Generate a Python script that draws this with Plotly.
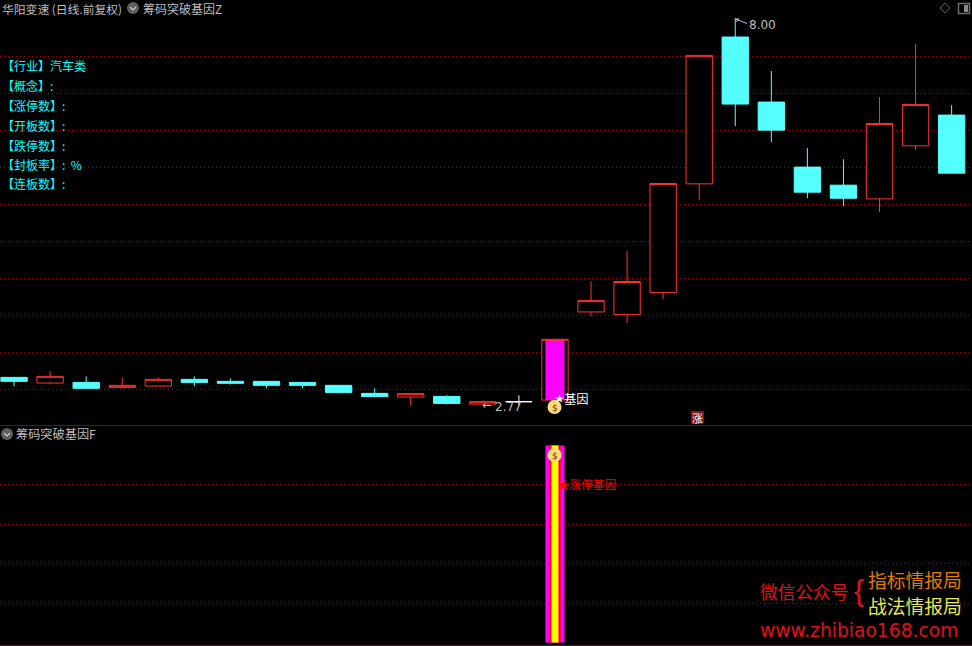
import math
import plotly.graph_objects as go

# ---------- data ----------
idx = list(range(27))
opens = [3.122,3.045,3.054,2.986,3.004,3.095,3.068,3.068,3.054,3.014,2.905,2.855,2.864,2.760,2.792,2.814,
         4.010,3.974,4.273,5.749,7.742,6.859,5.976,5.731,5.545,6.265,6.682]
closes = [3.068,3.136,2.973,3.014,3.095,3.054,3.041,3.014,3.014,2.918,2.864,2.901,2.769,2.792,2.792,3.639,
          4.164,4.423,5.754,7.493,6.832,6.478,5.636,5.554,6.569,6.827,5.894]
highs = [3.122,3.204,3.136,3.122,3.122,3.136,3.109,3.068,3.054,3.014,2.973,2.901,2.878,2.810,2.878,3.639,
         4.427,4.834,5.754,7.493,8.000,7.280,6.234,6.084,6.927,7.647,6.818]
lows = [3.000,3.027,2.973,2.973,3.004,3.000,3.027,2.973,2.973,2.905,2.851,2.742,2.755,2.755,2.742,2.814,
        3.951,3.856,4.182,5.527,6.533,6.315,5.554,5.446,5.364,6.207,5.894]
cross_i = 14
gene_i = 15
price_grid = [7.477,6.974,6.471,5.969,5.466,4.963,4.461,3.965,3.462,2.959]
gene_value = 100
lower_grid = [20,40,60,80]
info_lines = ["【行业】汽车类","【概念】:","【涨停数】:","【开板数】:","【跌停数】:","【封板率】:  %","【连板数】:"]

W, H = 972, 646
RED, CYAN = "#FF3232", "#54FFFF"
GRID = "#A00000"
GREY = "#BEBEBE"
CJK = "Noto Sans CJK SC"

def px(x): return x / W
def py(y): return 1 - y / H

normal = [i for i in idx if i not in (cross_i, gene_i)]
fig = go.Figure()

# spacer + magenta column of the limit-up candle (bars draw below candlesticks)
fig.add_bar(x=[gene_i], y=[closes[gene_i]-opens[gene_i]], base=[opens[gene_i]], width=26/36,
            marker=dict(color="#000000", line_width=0), xaxis="x", yaxis="y")
fig.add_bar(x=[gene_i], y=[closes[gene_i]-opens[gene_i]], base=[opens[gene_i]], width=19/36,
            marker=dict(color="#FF00FF", line_width=0), xaxis="x", yaxis="y")

fig.add_candlestick(x=normal, open=[opens[i] for i in normal], high=[highs[i] for i in normal],
                    low=[lows[i] for i in normal], close=[closes[i] for i in normal],
                    increasing=dict(line=dict(color=RED, width=1), fillcolor="#000000"),
                    decreasing=dict(line=dict(color=CYAN, width=1), fillcolor=CYAN),
                    whiskerwidth=0, xaxis="x", yaxis="y")
fig.add_candlestick(x=[gene_i], open=[opens[gene_i]], high=[highs[gene_i]], low=[lows[gene_i]], close=[closes[gene_i]],
                    increasing=dict(line=dict(color=RED, width=1), fillcolor="rgba(0,0,0,0)"),
                    decreasing=dict(line=dict(color=RED, width=1), fillcolor="rgba(0,0,0,0)"),
                    whiskerwidth=0, xaxis="x", yaxis="y")
fig.add_candlestick(x=[cross_i], open=[opens[cross_i]], high=[highs[cross_i]], low=[lows[cross_i]], close=[closes[cross_i]],
                    increasing=dict(line=dict(color="#FFFFFF", width=1), fillcolor="#FFFFFF"),
                    decreasing=dict(line=dict(color="#FFFFFF", width=1), fillcolor="#FFFFFF"),
                    whiskerwidth=0, xaxis="x", yaxis="y")

# lower pane nested columns
for w, c in ((19/36, "#FF00FF"), (11/36, "#FF0000"), (7/36, "#FFFF00")):
    fig.add_bar(x=[gene_i], y=[gene_value], width=w, marker=dict(color=c, line_width=0), xaxis="x2", yaxis="y2")

ann = []
def text(x, y, s, color=GREY, size=12, anchor="left", family=CJK):
    ann.append(dict(x=px(x), y=py(y), xref="paper", yref="paper", text=s, showarrow=False,
                    xanchor=anchor, yanchor="middle", align="left", borderpad=0, borderwidth=0,
                    font=dict(color=color, size=size, family=family)))

text(2, 8, "华阳变速 (日线.前复权)", size=11.8)
text(143, 8, "筹码突破基因Z", size=12)
text(16, 434, "筹码突破基因F", size=12.2)
for y, s in zip([66, 86, 105, 125, 145, 164, 184], info_lines):
    text(2, y, s, color="#00FFFF", size=12)
text(749, 25, "8.00", size=12, family="DejaVu Sans")
text(495, 407, "2.77", size=12, family="DejaVu Sans")
text(482, 405, "←", size=11, family="DejaVu Sans")
text(564, 399, "基因", color="#FFFFFF", size=12.3)
text(558, 483.5, "★涨停基因", color="#FF0000", size=11.6)
text(554.5, 408, "$", color="#7A2A10", size=9, anchor="center", family="DejaVu Sans")
text(554.5, 455.5, "$", color="#7A2A10", size=9, anchor="center", family="DejaVu Sans")
text(697.5, 417.5, "涨", color="#FFFFFF", size=11, anchor="center")
text(760, 590.5, "微信公众号", color="#E0101A", size=17.7)
text(854, 590, "{", color="#E0101A", size=30, family="Liberation Sans")
text(868, 579.5, "指标情报局", color="#E07B00", size=18.8)
text(868, 605, "战法情报局", color="#E8E850", size=18.8)
text(760, 630, "www.zhibiao168.com", color="#E0101A", size=18.7, family="DejaVu Sans")

def rect(x0, y0, x1, y1, fill=None, line=None, lw=1):
    return dict(type="rect", xref="paper", yref="paper", x0=px(x0), x1=px(x1), y0=py(y0), y1=py(y1),
                fillcolor=fill or "rgba(0,0,0,0)", line=dict(color=line or "rgba(0,0,0,0)", width=lw), layer="above")

def path(pts, fill=None, line=None, lw=1, close=True):
    d = "M " + " L ".join(f"{px(x):.5f},{py(y):.5f}" for x, y in pts) + (" Z" if close else "")
    return dict(type="path", xref="paper", yref="paper", path=d, fillcolor=fill or "rgba(0,0,0,0)",
                line=dict(color=line or "rgba(0,0,0,0)", width=lw), layer="above")

def circle(cx, cy, r, fill):
    return dict(type="circle", xref="paper", yref="paper", x0=px(cx-r), x1=px(cx+r), y0=py(cy-r), y1=py(cy+r),
                fillcolor=fill, line=dict(width=0), layer="above")

def bag(cx, cy):
    return [
        path([(cx-3, cy-7), (cx+3, cy-7), (cx+2, cy-3), (cx-2, cy-3)], fill="#E8C040"),
        circle(cx, cy, 7, "#F6DD7A"),
    ]

def star(cx, cy, r, fill):
    pts = []
    for k in range(10):
        rad = r if k % 2 == 0 else r * 0.4
        a = -math.pi / 2 + k * math.pi / 5
        pts.append((cx + rad * math.cos(a), cy + rad * math.sin(a)))
    return path(pts, fill=fill)

shapes = [
    # pane separators
    dict(type="line", xref="paper", yref="paper", x0=0, x1=1, y0=py(425.5), y1=py(425.5), line=dict(color="#8E0000", width=1)),
    dict(type="line", xref="paper", yref="paper", x0=0, x1=1, y0=py(645.5), y1=py(645.5), line=dict(color="#8E0000", width=1)),
    # header icons
    circle(133, 8, 6, "#5E5E5E"),
    circle(7, 434, 6, "#5E5E5E"),
    path([(130, 7), (133, 10), (136, 7)], line="#D0D0D0", lw=1.2, close=False),
    path([(4, 433), (7, 436), (10, 433)], line="#D0D0D0", lw=1.2, close=False),
    path([(940, 8), (945, 3), (950, 8), (945, 13)], line="#5E5E5E"),
    rect(958.5, 3.5, 969.5, 13.5, line="#6E6E6E", lw=1.5),
    rect(964, 5, 968, 12, fill="#8A8A8A"),
    # highest-price flag
    path([(735.5, 19), (747, 23.5)], line=GREY, close=False),
    path([(735.5, 19), (739, 19), (735.5, 22)], line=GREY, close=False),
    # limit-up badge
    rect(691, 411, 704, 423, fill="#8E1414"),
]
shapes += bag(554.5, 407) + bag(554.5, 455)
shapes.append(star(559.5, 399, 4.5, "#FFFFFF"))

fig.update_layout(
    width=W, height=H, autosize=False,
    margin=dict(l=0, r=0, t=0, b=0, pad=0),
    paper_bgcolor="#000000", plot_bgcolor="#000000",
    showlegend=False, barmode="overlay", boxgap=0.27, boxgroupgap=0,
    annotations=ann, shapes=shapes,
    hovermode=False,
    xaxis=dict(domain=[0, 1], range=[-0.39, 26.565], visible=False, rangeslider=dict(visible=False), anchor="y"),
    xaxis2=dict(domain=[0, 1], range=[-0.39, 26.565], visible=False, anchor="y2"),
    yaxis=dict(domain=[py(425), 1], range=[2.4755, 8.2446], tickvals=price_grid, showticklabels=False, ticks="",
               showgrid=True, gridcolor=GRID, griddash="1px,3px", gridwidth=1, zeroline=False, showline=False, anchor="x"),
    yaxis2=dict(domain=[0, py(425)], range=[-1.8, 110.4], tickvals=lower_grid, showticklabels=False, ticks="",
                showgrid=True, gridcolor=GRID, griddash="1px,3px", gridwidth=1, zeroline=False, showline=False, anchor="x2"),
)

fig.write_html("out.html", config=dict(displayModeBar=False),
               post_script="document.body.style.margin='0';document.body.style.background='#000';")
